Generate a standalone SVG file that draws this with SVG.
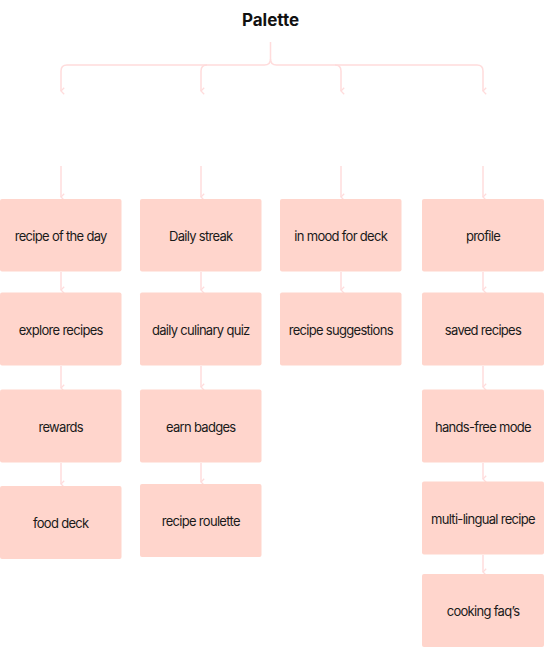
<svg xmlns="http://www.w3.org/2000/svg" width="544" height="647" viewBox="0 0 544 647">
<style>
.box{fill:#ffd5cc}
.lbl{font-family:Inter,"Liberation Sans",sans-serif;font-size:13px;letter-spacing:-0.7px;fill:#1a1a1a;text-anchor:middle;dominant-baseline:central}
.title{font-family:Inter,"Liberation Sans",sans-serif;font-size:17px;font-weight:700;fill:#111;text-anchor:middle}
.c{fill:none;stroke:#ffdcdc;stroke-width:1.5}
</style>
<defs>
<marker id="ah" viewBox="0 0 10 10" refX="5" refY="9" markerWidth="8" markerHeight="8" markerUnits="userSpaceOnUse" orient="auto-start-reverse">
<path d="M1,5 L5,9 L9,5" fill="none" stroke="#ffdcdc" stroke-width="1.6"/>
</marker>
</defs>
<rect width="544" height="647" fill="#fff"/>
<g id="title"><text class="title" x="270.5" y="26">Palette</text></g>
<g id="connectors">
<path class="c" d="M270.5 42 V59 Q270.5 65 264.5 65 H67 Q61 65 61 71 V91" marker-end="url(#ah)"/>
<path class="c" d="M270.5 59 Q270.5 65 276.5 65 H477 Q483 65 483 71 V91" marker-end="url(#ah)"/>
<path class="c" d="M207 65 Q201 65 201 71 V91" marker-end="url(#ah)"/>
<path class="c" d="M335 65 Q341 65 341 71 V91" marker-end="url(#ah)"/>
<path class="c" d="M61 166 V197" marker-end="url(#ah)"/>
<path class="c" d="M201 166 V197" marker-end="url(#ah)"/>
<path class="c" d="M341 166 V197" marker-end="url(#ah)"/>
<path class="c" d="M483 166 V197" marker-end="url(#ah)"/>
<path class="c" d="M61 272 V290" marker-end="url(#ah)"/>
<path class="c" d="M61 366 V388" marker-end="url(#ah)"/>
<path class="c" d="M61 463 V484" marker-end="url(#ah)"/>
<path class="c" d="M201 272 V290" marker-end="url(#ah)"/>
<path class="c" d="M201 366 V387" marker-end="url(#ah)"/>
<path class="c" d="M201 463 V482" marker-end="url(#ah)"/>
<path class="c" d="M341 272 V290" marker-end="url(#ah)"/>
<path class="c" d="M483 272 V290" marker-end="url(#ah)"/>
<path class="c" d="M483 366 V387" marker-end="url(#ah)"/>
<path class="c" d="M483 463 V479" marker-end="url(#ah)"/>
<path class="c" d="M483 555 V572" marker-end="url(#ah)"/>
</g>
<g id="n-recipe-of-the-day"><rect class="box" x="0" y="199" width="121.5" height="72.5" rx="2"/><text class="lbl" x="60.75" y="236">recipe of the day</text></g>
<g id="n-explore-recipes"><rect class="box" x="0" y="292.5" width="121.5" height="73" rx="2"/><text class="lbl" x="60.75" y="329.5">explore recipes</text></g>
<g id="n-rewards"><rect class="box" x="0" y="389.5" width="121.5" height="73" rx="2"/><text class="lbl" x="60.75" y="426.5">rewards</text></g>
<g id="n-food-deck"><rect class="box" x="0" y="486" width="121.5" height="73" rx="2"/><text class="lbl" x="60.75" y="523">food deck</text></g>
<g id="n-daily-streak"><rect class="box" x="140" y="199" width="121.5" height="72.5" rx="2"/><text class="lbl" x="200.75" y="236">Daily streak</text></g>
<g id="n-daily-culinary-quiz"><rect class="box" x="140" y="292.5" width="121.5" height="73" rx="2"/><text class="lbl" x="200.75" y="329.5">daily culinary quiz</text></g>
<g id="n-earn-badges"><rect class="box" x="140" y="389.5" width="121.5" height="73" rx="2"/><text class="lbl" x="200.75" y="426.5">earn badges</text></g>
<g id="n-recipe-roulette"><rect class="box" x="140" y="484" width="121.5" height="73" rx="2"/><text class="lbl" x="200.75" y="521">recipe roulette</text></g>
<g id="n-in-mood-for-deck"><rect class="box" x="280" y="199" width="121.5" height="72.5" rx="2"/><text class="lbl" x="340.75" y="236">in mood for deck</text></g>
<g id="n-recipe-suggestions"><rect class="box" x="280" y="292.5" width="121.5" height="73" rx="2"/><text class="lbl" x="340.75" y="329.5">recipe suggestions</text></g>
<g id="n-profile"><rect class="box" x="422" y="199" width="122" height="72.5" rx="2"/><text class="lbl" x="483" y="236">profile</text></g>
<g id="n-saved-recipes"><rect class="box" x="422" y="292.5" width="122" height="73" rx="2"/><text class="lbl" x="483" y="329.5">saved recipes</text></g>
<g id="n-hands-free-mode"><rect class="box" x="422" y="389.5" width="122" height="73" rx="2"/><text class="lbl" x="483" y="426.5">hands-free mode</text></g>
<g id="n-multi-lingual-recipe"><rect class="box" x="422" y="481.5" width="122" height="73" rx="2"/><text class="lbl" x="483" y="518.5">multi-lingual recipe</text></g>
<g id="n-cooking-faqs"><rect class="box" x="422" y="574" width="122" height="73" rx="2"/><text class="lbl" x="483" y="611">cooking faq’s</text></g>
</svg>
